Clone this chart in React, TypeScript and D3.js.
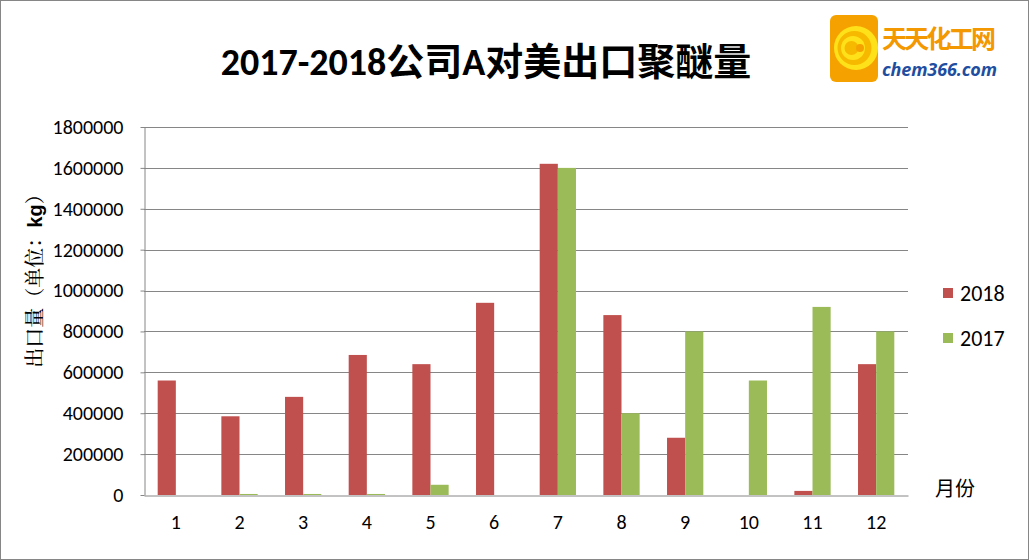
import { useEffect, useRef } from "react";
import * as d3 from "d3";

const months = ["1", "2", "3", "4", "5", "6", "7", "8", "9", "10", "11", "12"];
const series2018 = [560000, 385000, 480000, 685000, 640000, 940000, 1620000, 880000, 280000, 0, 20000, 640000];
const series2017 = [0, 5000, 5000, 5000, 50000, 0, 1600000, 400000, 800000, 560000, 920000, 800000];
const yTicks = [0, 200000, 400000, 600000, 800000, 1000000, 1200000, 1400000, 1600000, 1800000];
const seriesNames = ["2018", "2017"];
const colors = ["#C0504D", "#9BBB59"];

const W = 1029;
const H = 560;

export default function App() {
  const svgRef = useRef<SVGSVGElement | null>(null);

  useEffect(() => {
    document.body.style.margin = "0";
    if (!svgRef.current) return;
    const svg = d3.select(svgRef.current);
    svg.selectAll("*").remove();

    const margin = { top: 127, right: 121, bottom: 65, left: 144 };
    const innerW = W - margin.left - margin.right;
    const innerH = H - margin.top - margin.bottom;

    // background + outer border
    svg.append("rect").attr("x", 0.5).attr("y", 0.5).attr("width", W - 1).attr("height", H - 1)
      .attr("fill", "#fff").attr("stroke", "#868686");

    const x = d3.scaleBand().domain(months).range([0, innerW]).paddingInner(0.43).paddingOuter(0.215);
    const xs = d3.scaleBand().domain(seriesNames).range([0, x.bandwidth()]);
    const y = d3.scaleLinear().domain([0, 1800000]).range([innerH, 0]);

    const g = svg.append("g").attr("transform", `translate(${margin.left},${margin.top})`);
    const labelFont = "Carlito, Calibri, 'Open Sans', 'Noto Sans CJK SC', sans-serif";

    // gridlines
    g.selectAll(".grid").data(yTicks.slice(1)).enter().append("line")
      .attr("x1", 0).attr("x2", innerW)
      .attr("y1", (d) => Math.round(y(d)) + 0.5).attr("y2", (d) => Math.round(y(d)) + 0.5)
      .attr("stroke", "#868686").attr("stroke-width", 1);

    // bars
    const data = [series2018, series2017];
    data.forEach((vals, si) => {
      g.selectAll(`.bar${si}`).data(vals).enter().append("rect")
        .attr("x", (_, i) => x(months[i])! + xs(seriesNames[si])!)
        .attr("y", (d) => y(d))
        .attr("width", xs.bandwidth())
        .attr("height", (d) => innerH - y(d))
        .attr("fill", colors[si]);
    });

    // y axis
    const yAxis = g.append("g").attr("transform", "translate(0.5,0)")
      .call(d3.axisLeft(y).tickValues(yTicks).tickSize(4).tickSizeOuter(0).tickPadding(17).tickFormat((d) => String(d)));
    yAxis.select(".domain").attr("stroke", "#868686");
    yAxis.selectAll("line").attr("stroke", "#868686");
    yAxis.selectAll("text").attr("font-family", labelFont).attr("font-size", 20).attr("fill", "#000");

    // x axis
    const xAxis = g.append("g").attr("transform", `translate(0,${innerH + 0.5})`)
      .call(d3.axisBottom(x).tickSize(0).tickPadding(19));
    xAxis.select(".domain").attr("stroke", "#868686");
    xAxis.selectAll("text").attr("font-family", labelFont).attr("font-size", 20).attr("fill", "#000");

    // title
    svg.append("text").attr("x", 486).attr("y", 75).attr("text-anchor", "middle")
      .attr("font-family", labelFont).attr("font-weight", "bold").attr("font-size", 38).attr("fill", "#000")
      .text("2017-2018公司A对美出口聚醚量");

    // y label
    const yl = svg.append("text").attr("transform", "translate(42,276) rotate(-90)")
      .attr("text-anchor", "middle").attr("font-family", "'Noto Serif CJK SC', 'Noto Sans CJK SC', serif")
      .attr("font-size", 20).attr("font-weight", 500).attr("fill", "#000");
    yl.append("tspan").text("出口量（单位：");
    yl.append("tspan").attr("font-weight", "bold").attr("font-family", "'Liberation Sans', sans-serif").text("kg");
    yl.append("tspan").text("）");

    // x unit label
    svg.append("text").attr("x", 955).attr("y", 496).attr("text-anchor", "middle")
      .attr("font-family", "'Noto Sans CJK SC', sans-serif").attr("font-size", 20).attr("fill", "#000")
      .text("月份");

    // legend
    seriesNames.forEach((name, i) => {
      const ly = 293 + i * 45;
      svg.append("rect").attr("x", 943).attr("y", ly - 5).attr("width", 10).attr("height", 10).attr("fill", colors[i]);
      svg.append("text").attr("x", 960).attr("y", ly + 8).attr("font-family", labelFont)
        .attr("font-size", 22).attr("fill", "#000").text(name);
    });

    // logo
    const logo = svg.append("g").attr("transform", "translate(830,15)");
    logo.append("rect").attr("width", 48).attr("height", 67).attr("rx", 6).attr("fill", "#F5A200");
    [22, 17, 12, 7].forEach((r, i) => {
      logo.append("circle").attr("cx", 26 - i * 1.5).attr("cy", 33).attr("r", r)
        .attr("fill", i % 2 === 0 ? "#FFE11A" : "#F7B800");
    });
    logo.append("circle").attr("cx", 30).attr("cy", 33).attr("r", 4).attr("fill", "#F5A200");
    logo.append("text").attr("x", 52).attr("y", 33).attr("font-family", "'Noto Sans CJK SC', sans-serif")
      .attr("font-weight", "bold").attr("font-size", 25).attr("fill", "#F39800").attr("textLength", 114)
      .text("天天化工网");
    logo.append("text").attr("x", 52).attr("y", 61).attr("font-family", "'Open Sans', sans-serif")
      .attr("font-weight", "bold").attr("font-style", "italic").attr("font-size", 18).attr("fill", "#1F4EA0")
      .attr("textLength", 115).text("chem366.com");
  }, []);

  return <svg ref={svgRef} width={W} height={H} style={{ display: "block" }} />;
}
